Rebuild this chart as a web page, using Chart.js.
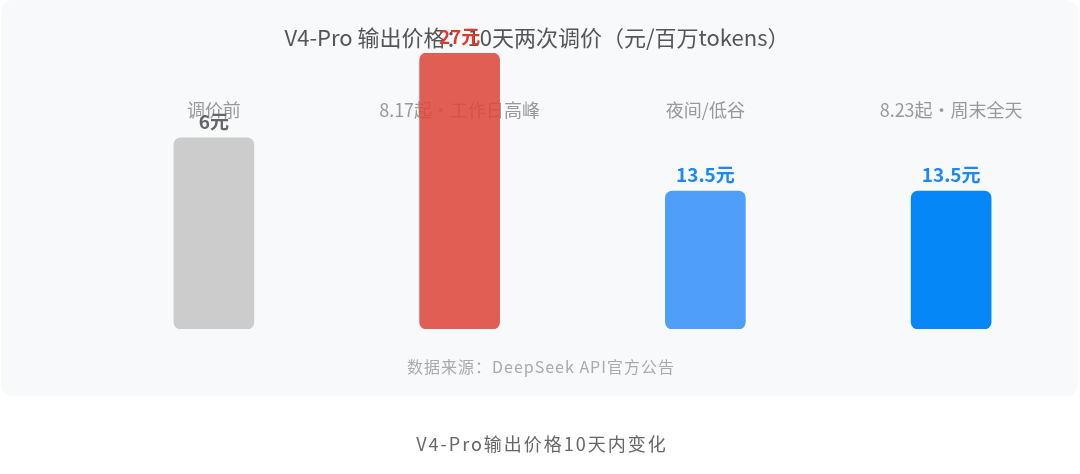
<!DOCTYPE html>
<html>
<head>
<meta charset="utf-8">
<script src="https://cdn.jsdelivr.net/npm/chart.js@4"></script>
<style>
  html, body { margin: 0; padding: 0; background: #ffffff; }
  #wrap { width: 1080px; height: 474px; position: relative; }
</style>
</head>
<body>
<div id="wrap"><canvas id="priceChart"></canvas></div>
<script>
const categories = ['调价前', '8.17起·工作日高峰', '夜间/低谷', '8.23起·周末全天'];
const prices = [6, 27, 13.5, 13.5];
// the source picture draws the 6元 bar taller than its price; heights
const barValues = [18.7, 27, 13.5, 13.5];
const priceLabels = ['6元', '27元', '13.5元', '13.5元'];
const barColors = ['#cccccc', 'rgba(221,72,61,0.88)', '#4f9ef8', '#0587f7'];
const labelColors = ['#666666', '#e0392d', '#1a88f8', '#1a88f8'];

const titleText = 'V4-Pro 输出价格：10天两次调价（元/百万tokens）';
const sourceText = '数据来源：DeepSeek API官方公告';
const captionText = 'V4-Pro输出价格10天内变化';

const FONT = '"Noto Sans CJK SC", "Noto Sans", sans-serif';

const panelPlugin = {
    id: 'panel',
    beforeDraw(chart) {
        const ctx = chart.ctx;
        ctx.save();
        ctx.fillStyle = '#ffffff';
        ctx.fillRect(0, 0, chart.width, chart.height);
        ctx.fillStyle = '#f8f9fb';
        ctx.beginPath();
        ctx.roundRect(1, 0, 1077, 396, 12);
        ctx.fill();

        ctx.textAlign = 'center';
        ctx.textBaseline = 'middle';
        ctx.fillStyle = '#555555';
        ctx.font = '22px ' + FONT;
        ctx.fillText(titleText, 537, 38);

        // category names sit above the bars, under them in drawing order
        const x = chart.scales.x;
        ctx.fillStyle = '#999999';
        ctx.font = '18px ' + FONT;
        categories.forEach((c, i) => {
            ctx.fillText(c, x.getPixelForValue(i), 110);
        });

        ctx.fillStyle = '#aaaaaa';
        ctx.font = '16px ' + FONT;
        ctx.letterSpacing = '1px';
        ctx.fillText(sourceText, 541, 367);

        ctx.fillStyle = '#666666';
        ctx.font = '18px ' + FONT;
        ctx.letterSpacing = '2px';
        ctx.fillText(captionText, 542, 444);
        ctx.restore();
    }
};

const valueLabelPlugin = {
    id: 'valueLabels',
    afterDatasetsDraw(chart) {
        const ctx = chart.ctx;
        const meta = chart.getDatasetMeta(0);
        ctx.save();
        ctx.textAlign = 'center';
        ctx.textBaseline = 'bottom';
        ctx.font = 'bold 19px ' + FONT;
        meta.data.forEach((bar, i) => {
            ctx.fillStyle = labelColors[i];
            ctx.fillText(priceLabels[i], bar.x, bar.y - 7);
        });
        ctx.restore();
    }
};

const ctx = document.getElementById('priceChart').getContext('2d');
new Chart(ctx, {
    type: 'bar',
    data: {
        labels: categories,
        datasets: [{
            label: '输出价格',
            data: barValues,
            backgroundColor: barColors,
            borderRadius: 7,
            borderSkipped: false,
            barThickness: 80
        }]
    },
    options: {
        responsive: true,
        maintainAspectRatio: false,
        animation: false,
        layout: { padding: { left: 91, right: 6, top: 53, bottom: 145 } },
        plugins: {
            legend: { display: false },
            title: { display: false },
            tooltip: { enabled: false }
        },
        scales: {
            x: { display: false },
            y: { display: false, min: 0, max: 27 }
        }
    },
    plugins: [panelPlugin, valueLabelPlugin]
});
</script>
</body>
</html>
